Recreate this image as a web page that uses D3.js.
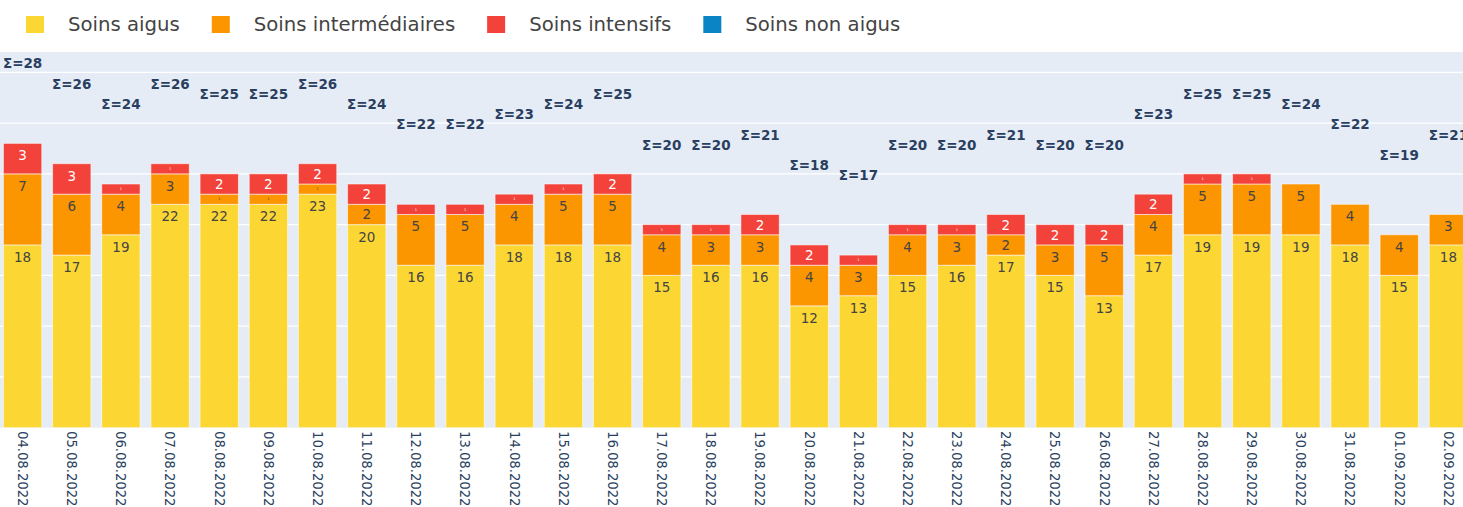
<!DOCTYPE html>
<html>
<head>
<meta charset="utf-8">
<script src="https://cdn.jsdelivr.net/npm/d3@7"></script>
<style>
  body { margin: 0; background: #fff; overflow: hidden; }
  svg { display: block; font-family: "DejaVu Sans", Verdana, sans-serif; }
</style>
</head>
<body>
<div id="chart"></div>
<script>
// data
let dates = ["04.08.2022", "05.08.2022", "06.08.2022", "07.08.2022", "08.08.2022", "09.08.2022",
  "10.08.2022", "11.08.2022", "12.08.2022", "13.08.2022", "14.08.2022", "15.08.2022",
  "16.08.2022", "17.08.2022", "18.08.2022", "19.08.2022", "20.08.2022", "21.08.2022",
  "22.08.2022", "23.08.2022", "24.08.2022", "25.08.2022", "26.08.2022", "27.08.2022",
  "28.08.2022", "29.08.2022", "30.08.2022", "31.08.2022", "01.09.2022", "02.09.2022"]
let aigus = [18, 17, 19, 22, 22, 22, 23, 20, 16, 16, 18, 18, 18, 15, 16, 16, 12, 13, 15, 16, 17, 15, 13, 17, 19, 19, 19, 18, 15, 18]
let intermediaires = [7, 6, 4, 3, 1, 1, 1, 2, 5, 5, 4, 5, 5, 4, 3, 3, 4, 3, 4, 3, 2, 3, 5, 4, 5, 5, 5, 4, 4, 3]
let intensifs = [3, 3, 1, 1, 2, 2, 2, 2, 1, 1, 1, 1, 2, 1, 1, 2, 2, 1, 1, 1, 2, 2, 2, 2, 1, 1, 0, 0, 0, 0]
let nonAigus = [0, 0, 0, 0, 0, 0, 0, 0, 0, 0, 0, 0, 0, 0, 0, 0, 0, 0, 0, 0, 0, 0, 0, 0, 0, 0, 0, 0, 0, 0]

let seriesNames = ["Soins aigus", "Soins intermédiaires", "Soins intensifs", "Soins non aigus"]
let seriesColors = ["#fcd734", "#fb9500", "#f3423a", "#0b84c6"]
let yTicks = [5, 10, 15, 20, 25, 30, 35]

/* SVG */
let svgWidth = 1463
let svgHeight = 507

let svg = d3.select("#chart").append("svg")
  .attr("width", svgWidth)
  .attr("height", svgHeight)

let plotTop = 52
let plotBottom = 427.7

// table for the stack
let rows = dates.map((d, i) => ({
  date: d,
  "Soins aigus": aigus[i],
  "Soins intermédiaires": intermediaires[i],
  "Soins intensifs": intensifs[i],
  "Soins non aigus": nonAigus[i]
}))

let x = d3.scaleBand()
  .domain(dates)
  .range([-2, 1473])
  .paddingInner(0.22)
  .paddingOuter(0.11)

let y = d3.scaleLinear()
  .domain([0, 37])
  .range([plotBottom, plotTop])

// plot background
svg.append("rect")
  .attr("x", 0).attr("y", plotTop)
  .attr("width", svgWidth).attr("height", plotBottom - plotTop)
  .attr("fill", "#e5ecf6")

// gridlines
svg.append("g")
  .selectAll("line")
  .data(yTicks)
  .join("line")
  .attr("x1", 0).attr("x2", svgWidth)
  .attr("y1", d => y(d)).attr("y2", d => y(d))
  .attr("stroke", "#fff")
  .attr("stroke-width", 1.2)

let stack = d3.stack().keys(seriesNames)
let layers = stack(rows)

let layerG = svg.append("g")
  .selectAll("g")
  .data(layers)
  .join("g")
  .attr("fill", (d, i) => seriesColors[i])

layerG.selectAll("rect")
  .data(d => d.filter(s => s[1] - s[0] > 0))
  .join("rect")
  .attr("x", d => x(d.data.date))
  .attr("width", x.bandwidth())
  .attr("y", d => y(d[1]))
  .attr("height", d => y(d[0]) - y(d[1]))
  .attr("stroke", "rgba(255,255,255,0.55)")
  .attr("stroke-width", 1)

// values inside the segments
layers.forEach((layer, li) => {
  let segs = layer.filter(s => s[1] - s[0] > 0)
  svg.append("g")
    .selectAll("text")
    .data(segs)
    .join("text")
    .attr("x", d => x(d.data.date) + x.bandwidth() / 2)
    .attr("y", d => {
      let top = y(d[1])
      let h = y(d[0]) - y(d[1])
      if (h < 15) return top + h / 2 + 1.2
      return top + Math.min(17, h / 2 + 5)
    })
    .attr("text-anchor", "middle")
    .attr("font-size", d => (y(d[0]) - y(d[1])) < 15 ? 3.5 : 13.5)
    .attr("fill", li == 2 ? "#fff" : "#444")
    .text(d => d[1] - d[0])
})

// sum labels
svg.append("g")
  .selectAll("text")
  .data(rows)
  .join("text")
  .attr("x", d => x(d.date) + x.bandwidth() / 2)
  .attr("y", (d, i) => y(aigus[i] + intermediaires[i] + intensifs[i] + nonAigus[i] + 8) + 6.3)
  .attr("text-anchor", "middle")
  .attr("font-size", 13.5)
  .attr("font-weight", "bold")
  .attr("fill", "#2a3f5f")
  .text((d, i) => "Σ=" + (aigus[i] + intermediaires[i] + intensifs[i] + nonAigus[i]))

// x tick labels, rotated
svg.append("g")
  .selectAll("text")
  .data(dates)
  .join("text")
  .attr("transform", d => `translate(${x(d) + x.bandwidth() / 2}, 431) rotate(90)`)
  .attr("dy", "0.35em")
  .attr("text-anchor", "start")
  .attr("font-size", 13.2)
  .attr("fill", "#2a3f5f")
  .text(d => d)

// legend
let legend = svg.append("g")
let lx = 26
seriesNames.forEach((name, i) => {
  legend.append("rect")
    .attr("x", lx).attr("y", 16)
    .attr("width", 18).attr("height", 17)
    .attr("fill", seriesColors[i])
  let t = legend.append("text")
    .attr("x", lx + 42).attr("y", 31)
    .attr("font-size", 19.7)
    .attr("fill", "#444")
    .text(name)
  lx = lx + 42 + t.node().getComputedTextLength() + 32
})
</script>
</body>
</html>
